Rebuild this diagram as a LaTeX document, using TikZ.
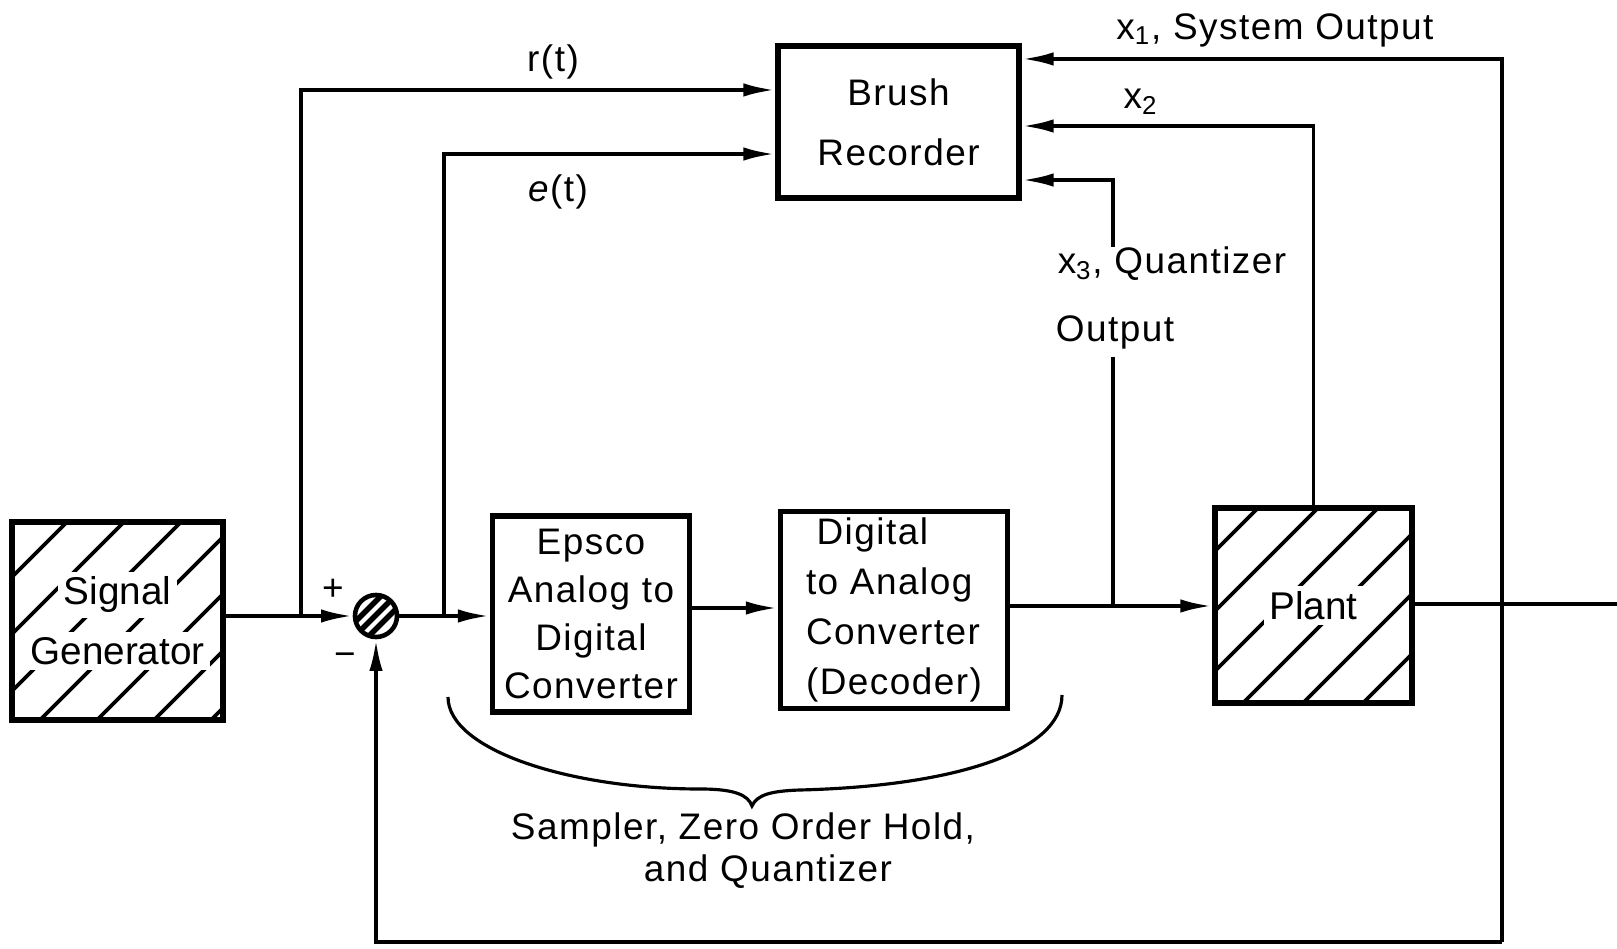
\documentclass[tikz,border=0pt]{standalone}
\usepackage{fontspec}
\setmainfont{Liberation Sans}[LetterSpace=4]
\usetikzlibrary{arrows.meta,backgrounds,calc}
\newcommand{\wbox}[1]{{\setlength{\fboxsep}{1.5pt}\colorbox{white}{#1}}}
\begin{document}
\begin{tikzpicture}[x=0.01cm,y=-0.01cm,
  box/.style={draw,line width=1.6pt,inner sep=0pt,align=center},
  conn/.style={line width=1.1pt},
  arr/.style={conn,-{Latex[length=9pt,width=3.8pt]}},
  hatch/.style={line width=1.1pt},
  bigfont/.style={font={\fontsize{11}{17}\selectfont\addfontfeature{LetterSpace=0}}},
  font=\fontsize{10.5}{13}\selectfont]
\useasboundingbox (0,0) rectangle (1617,949);
\begin{scope}[on background layer]
  \fill[white] (0,0) rectangle (1617,949);
\end{scope}

% blocks
\node[box,bigfont,minimum width=2.11cm,minimum height=1.98cm] (sg) at (117.5,621) {\wbox{Signal}\\\wbox{Generator}};
\node[draw,circle,line width=1.3pt,minimum size=0.42cm,inner sep=0pt] (sum) at (376,616) {};
\node[box,minimum width=1.97cm,minimum height=1.96cm,font=\fontsize{10.5}{13.6}\selectfont] (adc) at (591,614) {Epsco\\Analog to\\Digital\\Converter};
\node[box,align=left,minimum width=2.27cm,minimum height=1.97cm,font=\fontsize{10.5}{14.3}\selectfont] (dac) at (894,610) {\hspace*{3pt}Digital\\to Analog\\Converter\\(Decoder)};
\node[box,minimum width=2.41cm,minimum height=1.52cm,font=\fontsize{10.5}{17}\selectfont] (brush) at (898.5,122) {Brush\\Recorder};
\node[box,bigfont,minimum width=1.97cm,minimum height=1.95cm] (plant) at (1313.5,605.5) {\wbox{Plant}};

% hatching
\begin{scope}[on background layer]
  \begin{scope}
    \clip (sg.south west) rectangle (sg.north east);
    \foreach \c in {589,646,...,931} \draw[hatch] ({\c-760},760) -- ({\c-480},480);
  \end{scope}
  \begin{scope}
    \clip (plant.south west) rectangle (plant.north east);
    \foreach \c in {1766,1826,...,2066} \draw[hatch] ({\c-750},750) -- ({\c-460},460);
  \end{scope}
  \begin{scope}
    \clip (sum.center) circle (0.2cm);
    \foreach \c in {977,991,1005} \draw[line width=1.6pt] ({\c-660},660) -- ({\c-570},570);
  \end{scope}
\end{scope}

% junction coordinates
\coordinate (rb) at (301,616);
\coordinate (eb) at (444,616);
\coordinate (m2) at (720,608);
\coordinate (qb) at (1113,606);
\coordinate (q1) at (1113,357);
\coordinate (q2) at (1113,247);
\coordinate (out) at (1617,604);
\coordinate (fbr) at (1502,942);

% connectors
\draw[arr] (sum -| sg.east) -- (sum.west);
\draw[arr] (sum.east) -- (adc.west |- sum);
\draw[arr] (rb) |- ([yshift=0.32cm]brush.west);
\draw[arr] (eb) |- ([yshift=-0.32cm]brush.west);
\draw[arr] (adc.east |- m2) -- (dac.west |- m2);
\draw[arr] (dac.east |- qb) -- (plant.west |- qb);
\draw[conn] (plant.east |- out) -- (out);
\draw[conn] (qb) -- (q1);
\draw[arr] (q2) |- ([yshift=-0.58cm]brush.east);
\draw[arr] (plant.north) |- ([yshift=-0.04cm]brush.east);
\draw[arr] (fbr) |- ([yshift=0.63cm]brush.east);
\draw[arr] (fbr) -| (sum.south);

% brace
\draw[line width=0.9pt] (448,697) .. controls (448,750) and (570,789) .. (700,789)
  .. controls (735,789) and (748,795) .. (752,806)
  .. controls (757,795) and (770,791) .. (800,790)
  .. controls (960,786) and (1062,750) .. (1062,695);

% labels
\node (lr) at (553,62) {r(t)};
\node (le) at (558,192) {\textit{e}(t)};
\node (lx1) at (1275,30) {x\textsubscript{1}, System Output};
\node (lx2) at (1141,102) {x\textsubscript{2}};
\node (lx3) at (1172,264) {x\textsubscript{3}, Quantizer};
\node (lout) at (1115,332) {Output};
\node (lp) at (333,590) {+};
\node (lm) at (345,660) {−};
\node (ls1) at (743,830) {Sampler, Zero Order Hold,};
\node (ls2) at (768,872) {and Quantizer};
\end{tikzpicture}
\end{document}
